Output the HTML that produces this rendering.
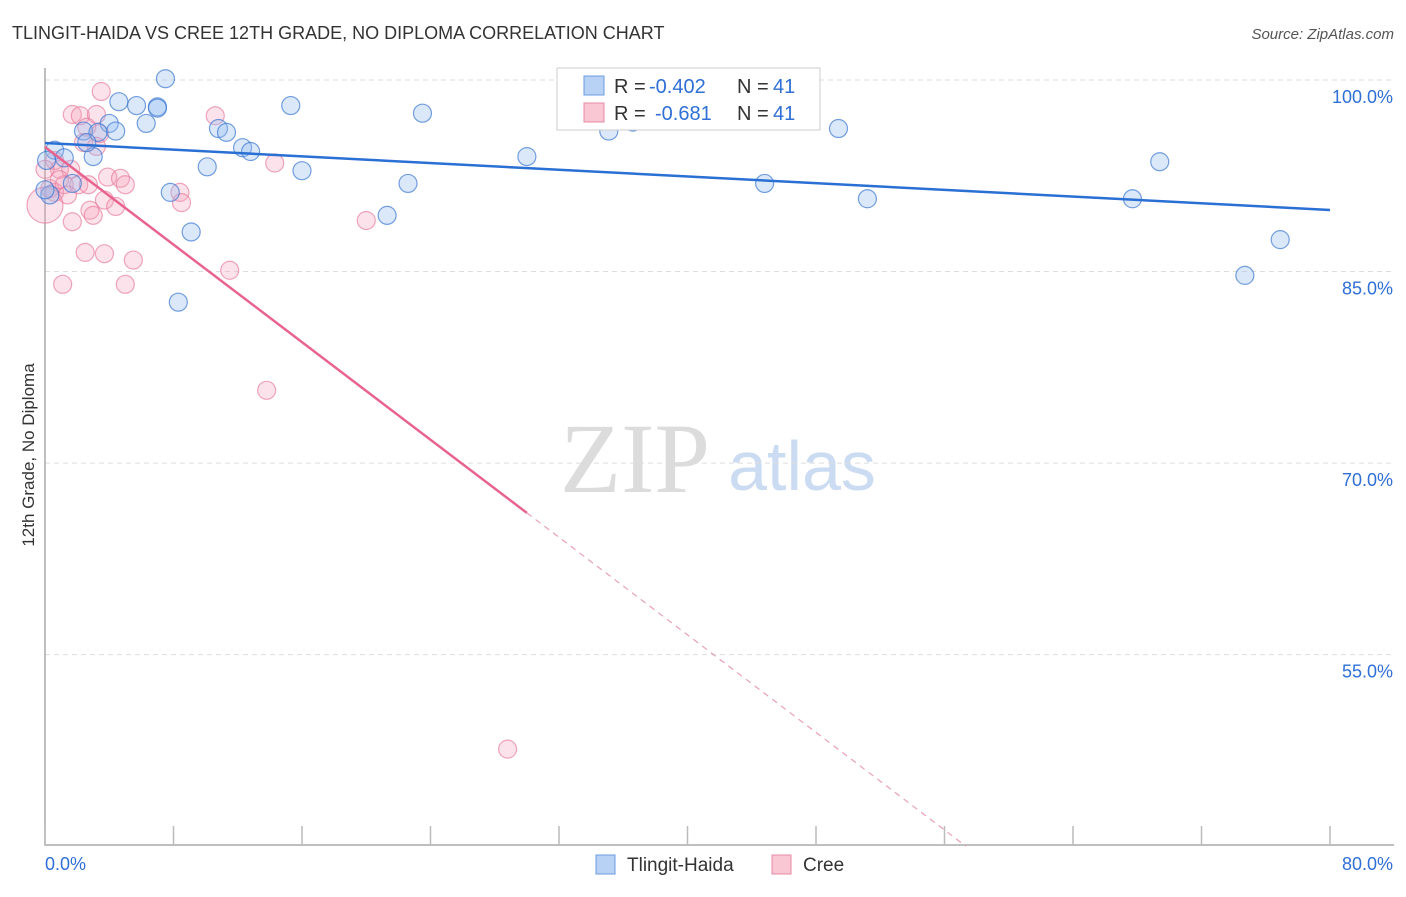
<!DOCTYPE html>
<html><head><meta charset="utf-8"><style>
body{margin:0;background:#fff;font-family:"Liberation Sans",sans-serif;}
svg text{font-family:"Liberation Sans",sans-serif;}
svg text.serif{font-family:"Liberation Serif",serif;}
</style></head><body>
<svg id="chart" width="1406" height="892" viewBox="0 0 1406 892" xmlns="http://www.w3.org/2000/svg">
<text x="12" y="39" font-size="18" fill="#333">TLINGIT-HAIDA VS CREE 12TH GRADE, NO DIPLOMA CORRELATION CHART</text>
<text x="1394" y="39" font-size="15" fill="#555" font-style="italic" text-anchor="end">Source: ZipAtlas.com</text>
<text x="34" y="455" font-size="17" fill="#333" text-anchor="middle" transform="rotate(-90 34 455)">12th Grade, No Diploma</text>
<g>
<text class="serif" x="635" y="492" font-size="100" fill="#dcdcdc" text-anchor="middle">ZIP</text>
<text x="802" y="490" font-size="70" fill="#cbdcf2" text-anchor="middle">atlas</text>
</g>
<g id="grid"></g>
<g id="axes"></g>
<g id="points"></g>
<g id="trends"></g>
<g>
<rect x="557" y="68" width="263" height="62" fill="#fff" stroke="#ccc"/>
<rect x="584" y="76" width="20" height="19" fill="#b8d2f5" stroke="#6a9be0"/>
<text x="614" y="93" font-size="20" fill="#333">R =</text>
<text x="649" y="93" font-size="20" fill="#2f6fd6">-0.402</text>
<text x="737" y="93" font-size="20" fill="#333">N =</text>
<text x="773" y="93" font-size="20" fill="#2f6fd6">41</text>
<rect x="584" y="103" width="20" height="19" fill="#f9c6d4" stroke="#e88aa6"/>
<text x="614" y="120" font-size="20" fill="#333">R =</text>
<text x="655" y="120" font-size="20" fill="#2f6fd6">-0.681</text>
<text x="737" y="120" font-size="20" fill="#333">N =</text>
<text x="773" y="120" font-size="20" fill="#2f6fd6">41</text>
</g>
<g>
<rect x="596" y="855" width="19" height="19" fill="#b8d2f5" stroke="#6a9be0"/>
<text x="627" y="871" font-size="19" fill="#333">Tlingit-Haida</text>
<rect x="772" y="855" width="19" height="19" fill="#f9c6d4" stroke="#e88aa6"/>
<text x="803" y="871" font-size="19" fill="#333">Cree</text>
</g>
</svg>
<script>
const xTicks=[0,8,16,24,32,40,48,56,64,72,80];
const yTicks=[100,85,70,55];
const blueX=[7.5,4.6,5.7,7.0,7.0,15.3,23.5,6.3,4.0,2.4,4.4,3.3,10.8,11.3,49.4,35.1,36.6,12.3,12.8,30.0,3.0,0.6,1.2,2.6,10.1,16.0,22.6,44.8,69.4,7.8,51.2,67.7,21.3,9.1,76.9,74.7,8.3,1.7,0.3,0,0.1];
const blueY=[100.1,98.3,98.0,97.9,97.8,98.0,97.4,96.6,96.6,96.0,96.0,95.9,96.2,95.9,96.2,96.0,96.7,94.7,94.4,94.0,94.0,94.5,93.9,95.1,93.2,92.9,91.9,91.9,93.6,91.2,90.7,90.7,89.4,88.1,87.5,84.7,82.6,91.9,91.0,91.4,93.7];
const pinkX=[3.5,1.7,2.2,3.2,10.6,2.6,3.4,2.4,3.2,14.3,0.9,1.6,0.6,0.3,0.6,1.2,2.1,2.7,3.9,4.7,5.0,3.7,4.4,8.4,8.5,2.8,3.0,1.7,20.0,2.5,3.7,5.5,11.5,1.1,5.0,13.8,28.8,0,1.4,0,0.9];
const pinkY=[99.1,97.3,97.2,97.3,97.2,96.3,95.8,95.1,94.8,93.5,93.0,93.0,93.7,91.5,91.2,91.8,91.8,91.8,92.4,92.3,91.8,90.6,90.1,91.2,90.4,89.8,89.4,88.9,89.0,86.5,86.4,85.9,85.1,84.0,84.0,75.7,47.6,90.2,91.0,93.0,92.2];
const blueTrend=[95.07,89.82];
const pinkTrend=[94.75,-0.955];
const NS='http://www.w3.org/2000/svg';
const X0=45,X1=1330,Y100=80,PXPER=12.77;
function sx(v){return X0+(X1-X0)*v/80;}
function sy(v){return Y100+(100-v)*PXPER;}
function mk(t,a,p){const e=document.createElementNS(NS,t);for(const k in a)e.setAttribute(k,a[k]);p.appendChild(e);return e;}
const grid=document.getElementById('grid'),axes=document.getElementById('axes'),pts=document.getElementById('points'),tr=document.getElementById('trends');
yTicks.forEach(v=>{
 const l=mk('line',{x1:X0,x2:1394,y1:sy(v),y2:sy(v),stroke:'#ddd','stroke-dasharray':'5,4'},grid);
 
 
 const t=mk('text',{x:1393,y:sy(v)+23,'font-size':18,fill:'#2f6fd6','text-anchor':'end'},axes);
 t.textContent=v.toFixed(1)+'%';
 
 
});
const ax=mk('path',{d:`M${X0} 68V845H1394`,stroke:'#aaa','stroke-width':1.5,fill:'none'},axes);


xTicks.forEach(v=>{
 const l=mk('line',{x1:sx(v),x2:sx(v),y1:826,y2:845,stroke:'#bbb','stroke-width':1.5},axes);
 
 
});
const xl0=mk('text',{x:45,y:870,'font-size':18,fill:'#2f6fd6'},axes);xl0.textContent='0.0%';


const xl1=mk('text',{x:1393,y:870,'font-size':18,fill:'#2f6fd6','text-anchor':'end'},axes);xl1.textContent='80.0%';


pinkX.forEach((x,i)=>{
 const c=mk('circle',{cx:sx(x),cy:sy(pinkY[i]),r:i===37?18:9,fill:'rgba(244,160,185,0.3)',stroke:'rgba(230,120,155,0.65)','stroke-width':1.2},pts);
 
 
});
blueX.forEach((x,i)=>{
 const c=mk('circle',{cx:sx(x),cy:sy(blueY[i]),r:9,fill:'rgba(150,190,240,0.35)',stroke:'rgba(60,120,210,0.7)','stroke-width':1.2},pts);
 
 
});
const bl=mk('line',{x1:sx(0),y1:sy(blueTrend[0]),x2:sx(80),y2:sy(blueTrend[1]),stroke:'#2a6fd4','stroke-width':2.5},tr);


const pe=(x)=>pinkTrend[0]+pinkTrend[1]*x;
const pl=mk('line',{x1:sx(0),y1:sy(pe(0)),x2:sx(30),y2:sy(pe(30)),stroke:'#e8648f','stroke-width':2.5},tr);


const xEnd=(pinkTrend[0]-40)/(-pinkTrend[1]);
const pd=mk('line',{x1:sx(30),y1:sy(pe(30)),x2:sx(xEnd),y2:sy(40),stroke:'#e8a0b8','stroke-width':1.2,'stroke-dasharray':'6,5'},tr);


</script>
</body></html>
